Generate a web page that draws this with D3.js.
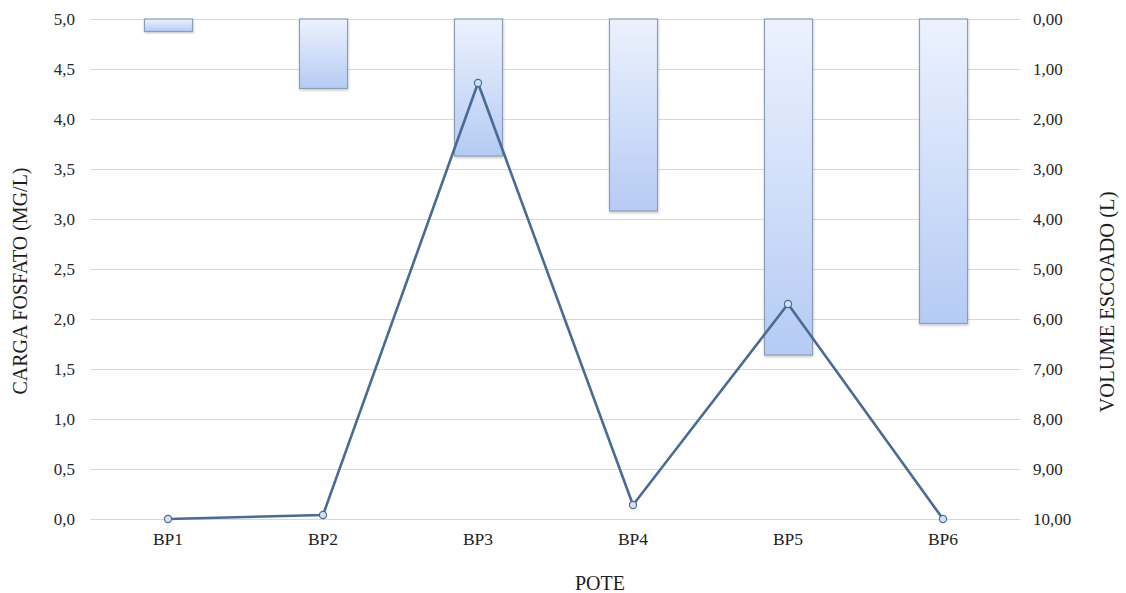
<!DOCTYPE html>
<html>
<head>
<meta charset="utf-8">
<script src="https://cdn.jsdelivr.net/npm/d3@7"></script>
<style>
  body { margin: 0; background: #fff; }
</style>
</head>
<body>
<svg id="chart" width="1126" height="593"></svg>
<script>
// Runoff sampling pots
const categories = ["BP1", "BP2", "BP3", "BP4", "BP5", "BP6"];
// Drained volume (L), drawn as bars hanging from the top on the inverted right axis
const volumeValues = [0.25, 1.39, 2.74, 3.84, 6.72, 6.09];
// Phosphate load (mg/L), drawn as a line on the left axis
const phosphateValues = [0.0, 0.04, 4.36, 0.14, 2.15, 0.0];
// Tick labels
const leftTicks = [0, 0.5, 1.0, 1.5, 2.0, 2.5, 3.0, 3.5, 4.0, 4.5, 5.0];
const rightTicks = [0, 1, 2, 3, 4, 5, 6, 7, 8, 9, 10];

const svg = d3.select("#chart");
const plot = { left: 90.5, right: 1020.5, top: 19, bottom: 519 };
const serif = "'Liberation Serif', 'Times New Roman', serif";

const x = d3.scaleBand().domain(categories).range([plot.left, plot.right]).paddingInner(0.69).paddingOuter(0.345);
const xc = d3.scalePoint().domain(categories).range([plot.left, plot.right]).padding(0.5);
const yLeft = d3.scaleLinear().domain([0, 5]).range([plot.bottom, plot.top]);
const yRight = d3.scaleLinear().domain([0, 10]).range([plot.top, plot.bottom]);

const comma = (d, n) => d.toFixed(n).replace(".", ",");

// gradient for the bars
const defs = svg.append("defs");
const grad = defs.append("linearGradient").attr("id", "barGrad")
  .attr("x1", 0).attr("y1", 0).attr("x2", 0).attr("y2", 1);
grad.append("stop").attr("offset", "0%").attr("stop-color", "#ecf2fe");
grad.append("stop").attr("offset", "100%").attr("stop-color", "#b5cbf4");
const shadow = defs.append("filter").attr("id", "barShadow")
  .attr("x", "-20%").attr("y", "-20%").attr("width", "140%").attr("height", "140%");
shadow.append("feDropShadow").attr("dx", 0.5).attr("dy", 1.5).attr("stdDeviation", 1.2)
  .attr("flood-color", "#000").attr("flood-opacity", 0.22);

// horizontal grid lines
svg.append("g").selectAll("line").data(leftTicks).join("line")
  .attr("x1", plot.left).attr("x2", plot.right)
  .attr("y1", d => Math.round(yLeft(d)) + 0.5).attr("y2", d => Math.round(yLeft(d)) + 0.5)
  .attr("stroke", "#d9d9d9").attr("stroke-width", 1);

// left axis labels
svg.append("g").selectAll("text").data(leftTicks).join("text")
  .attr("x", 75).attr("y", d => yLeft(d))
  .attr("dy", "0.35em").attr("text-anchor", "end")
  .attr("font-family", serif).attr("font-size", 17).attr("fill", "#262626")
  .text(d => comma(d, 1));

// right axis labels
svg.append("g").selectAll("text").data(rightTicks).join("text")
  .attr("x", 1033).attr("y", d => yRight(d))
  .attr("dy", "0.35em").attr("text-anchor", "start")
  .attr("font-family", serif).attr("font-size", 17).attr("fill", "#262626")
  .text(d => comma(d, 2));

// category labels
svg.append("g").selectAll("text").data(categories).join("text")
  .attr("x", d => xc(d)).attr("y", 545)
  .attr("text-anchor", "middle")
  .attr("font-family", serif).attr("font-size", 17.5).attr("fill", "#1e1e1e")
  .text(d => d);

// volume bars
svg.append("g").selectAll("rect").data(categories).join("rect")
  .attr("x", d => x(d) + 0.5)
  .attr("y", yRight(0))
  .attr("width", x.bandwidth())
  .attr("height", (d, i) => yRight(volumeValues[i]) - yRight(0))
  .attr("fill", "url(#barGrad)")
  .attr("stroke", "#8d9db6").attr("stroke-width", 1.2)
  .attr("filter", "url(#barShadow)");

// phosphate line
const line = d3.line().x(d => xc(d.c)).y(d => yLeft(d.v));
const pts = categories.map((c, i) => ({ c, v: phosphateValues[i] }));
svg.append("path").datum(pts)
  .attr("d", line)
  .attr("fill", "none").attr("stroke", "#4a6b93").attr("stroke-width", 2.6)
  .attr("stroke-linejoin", "round");
svg.append("g").selectAll("circle").data(pts).join("circle")
  .attr("cx", d => xc(d.c)).attr("cy", d => yLeft(d.v)).attr("r", 3.6)
  .attr("fill", "#d4e0f4").attr("stroke", "#4a6b93").attr("stroke-width", 1.2);

// axis titles
svg.append("text")
  .attr("transform", "translate(27, 281) rotate(-90)")
  .attr("text-anchor", "middle")
  .attr("font-family", serif).attr("font-size", 20).attr("fill", "#1e1e1e")
  .text("CARGA FOSFATO (MG/L)");
svg.append("text")
  .attr("transform", "translate(1114, 302) rotate(-90)")
  .attr("text-anchor", "middle")
  .attr("font-family", serif).attr("font-size", 20.5).attr("fill", "#1e1e1e")
  .text("VOLUME ESCOADO (L)");
svg.append("text")
  .attr("x", 600).attr("y", 590)
  .attr("text-anchor", "middle")
  .attr("font-family", serif).attr("font-size", 20).attr("fill", "#1e1e1e")
  .text("POTE");
</script>
</body>
</html>
